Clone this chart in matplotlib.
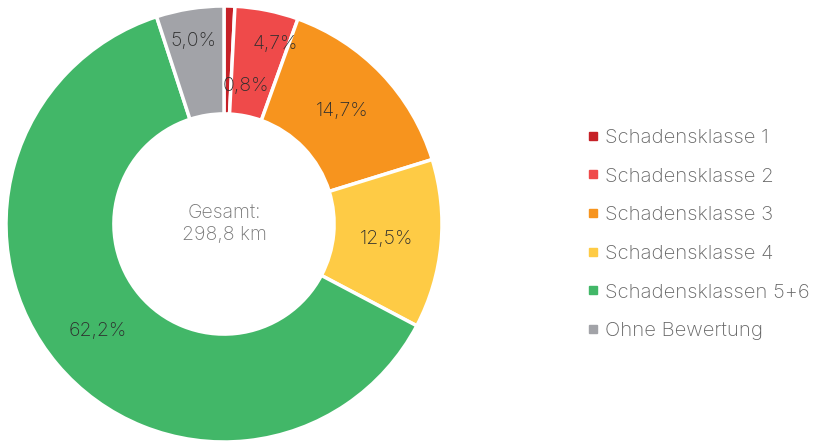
import numpy as np
import matplotlib
matplotlib.use("Agg")
import matplotlib.pyplot as plt
from matplotlib.lines import Line2D

plt.rcParams["font.family"] = ["Inter", "DejaVu Sans"]

# data
categories = ["Schadensklasse 1", "Schadensklasse 2", "Schadensklasse 3",
              "Schadensklasse 4", "Schadensklassen 5+6", "Ohne Bewertung"]
shares = [0.8, 4.7, 14.7, 12.5, 62.2, 5.0]
labels = ["0,8%", "4,7%", "14,7%", "12,5%", "62,2%", "5,0%"]
colors = ["#C62127", "#EF4A4A", "#F7941E", "#FECB45", "#42B768", "#A2A3A8"]
total_text = "Gesamt:\n298,8 km"

# label placement tweaks (radius, extra angle in degrees) for the tiny slices
label_r = [0.64, 0.86, 0.75, 0.75, 0.76, 0.85]
label_dang = [-7.5, -4.5, 0, 0, 0, 0]

fig = plt.figure(figsize=(8.13, 4.44), dpi=100)
W, H = 813, 444
cx, cy, R = 224, 224, 218
ax = fig.add_axes([(cx - R) / W, (H - cy - R) / H, 2 * R / W, 2 * R / H])

wedges, _ = ax.pie(shares, colors=colors, startangle=90, counterclock=False,
                   radius=1.0, wedgeprops=dict(width=0.495, edgecolor="white", linewidth=2.5))
ax.set_xlim(-1, 1)
ax.set_ylim(-1, 1)
ax.set_aspect("equal")
ax.axis("off")

cum = np.cumsum([0] + shares[:-1])
for i, lab in enumerate(labels):
    mid = cum[i] + shares[i] / 2
    ang = np.deg2rad(90 - mid / 100 * 360 + label_dang[i])
    ax.text(label_r[i] * np.cos(ang), label_r[i] * np.sin(ang), lab,
            ha="center", va="center", fontsize=14, color="#2e2e2e",
            fontweight="light")

ax.text(0, 0, total_text, ha="center", va="center", fontsize=14,
        color="#777777", linespacing=1.25, fontweight="light")

handles = [Line2D([0], [0], marker="s", linestyle="none", markersize=6,
                  markerfacecolor=c, markeredgecolor=c) for c in colors]
fig.legend(handles, categories, loc="center left", bbox_to_anchor=(565 / W, 0.472),
           frameon=False, prop=dict(size=14.6, weight="light"), labelcolor="#666666",
           handletextpad=0.05, labelspacing=1.01, handlelength=1.0)

fig.savefig("out.png", dpi=100)
